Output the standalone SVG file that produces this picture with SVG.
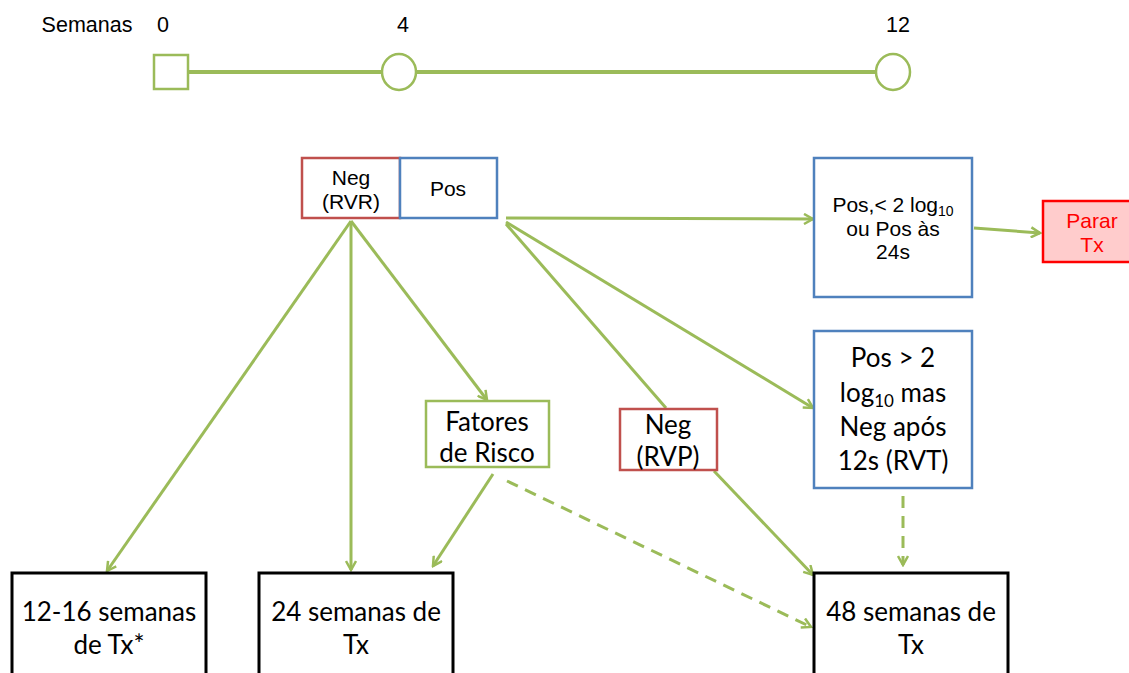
<svg xmlns="http://www.w3.org/2000/svg" width="1129" height="673" viewBox="0 0 1129 673">
<defs>
<style>
.ar{font-family:"Liberation Sans",Arial,sans-serif;font-size:21px;fill:#000;text-anchor:middle}
.tl{font-family:"Liberation Sans",Arial,sans-serif;font-size:21.5px;fill:#000;text-anchor:middle}
.cb{font-family:Lato,"Open Sans",sans-serif;font-size:26px;fill:#000;text-anchor:middle}
.ln{stroke:#9BBB59;stroke-width:3;fill:none}
.dash{stroke-dasharray:12 8}
.red{fill:#fff;stroke:#C0504D;stroke-width:2.5}
.blue{fill:#fff;stroke:#4F81BD;stroke-width:2.5}
.green{fill:#fff;stroke:#9BBB59;stroke-width:2.5}
.black{fill:#fff;stroke:#000;stroke-width:3}
</style>
<marker id="arr" viewBox="0 0 12 12" refX="10" refY="6" markerWidth="12" markerHeight="12" markerUnits="userSpaceOnUse" orient="auto">
<path d="M1,1 L10,6 L1,11" fill="none" stroke="#9BBB59" stroke-width="2.5" stroke-linejoin="miter"/>
</marker>
</defs>
<rect width="1129" height="673" fill="#fff"/>
<g id="timeline">
<text class="tl" x="87" y="32">Semanas</text>
<text class="tl" x="163" y="32">0</text>
<text class="tl" x="403" y="32">4</text>
<text class="tl" x="898" y="32">12</text>
<line x1="188" y1="72" x2="876" y2="72" stroke="#9BBB59" stroke-width="4"/>
<rect x="154" y="55" width="34" height="34" fill="#fff" stroke="#9BBB59" stroke-width="2.5"/>
<ellipse cx="399" cy="72" rx="17" ry="18" fill="#fff" stroke="#9BBB59" stroke-width="2.5"/>
<ellipse cx="893" cy="72" rx="17" ry="18" fill="#fff" stroke="#9BBB59" stroke-width="2.5"/>
</g>
<g id="connectors">
<line class="ln" x1="351" y1="221" x2="107" y2="571" marker-end="url(#arr)"/>
<line class="ln" x1="351" y1="221" x2="351" y2="570" marker-end="url(#arr)"/>
<line class="ln" x1="351" y1="221" x2="487" y2="400" marker-end="url(#arr)"/>
<line class="ln" x1="506" y1="218" x2="813" y2="219" marker-end="url(#arr)"/>
<line class="ln" x1="506" y1="222" x2="813" y2="408" marker-end="url(#arr)"/>
<line class="ln" x1="506" y1="224" x2="666" y2="408"/>
<line class="ln" x1="714" y1="471" x2="813" y2="575" marker-end="url(#arr)"/>
<line class="ln" x1="493" y1="474" x2="433" y2="566" marker-end="url(#arr)"/>
<line class="ln dash" x1="507" y1="481" x2="811" y2="627" marker-end="url(#arr)"/>
<line class="ln dash" x1="903" y1="496" x2="903" y2="565" marker-end="url(#arr)"/>
<line class="ln" x1="974" y1="228" x2="1040" y2="233" marker-end="url(#arr)"/>
</g>
<g id="neg-rvr">
<rect class="red" x="302" y="158" width="98" height="60"/>
<text class="ar" x="351" y="185">Neg</text>
<text class="ar" x="351" y="209">(RVR)</text>
</g>
<g id="pos">
<rect class="blue" x="400" y="158" width="97" height="60"/>
<text class="ar" x="448" y="196">Pos</text>
</g>
<g id="pos-lt2">
<rect class="blue" x="814" y="158" width="158" height="139"/>
<text class="ar" x="893" y="212">Pos,&lt; 2 log<tspan font-size="14" dy="4">10</tspan></text>
<text class="ar" x="893" y="236">ou Pos às</text>
<text class="ar" x="893" y="259">24s</text>
</g>
<g id="parar">
<rect x="1043" y="201" width="100" height="61" fill="#FFCCCC" stroke="#FF0000" stroke-width="2.5"/>
<text class="ar" x="1092" y="228" style="fill:#FF0000">Parar</text>
<text class="ar" x="1092" y="252" style="fill:#FF0000">Tx</text>
</g>
<g id="pos-gt2">
<rect class="blue" x="814" y="331" width="158" height="157"/>
<text class="cb" x="893" y="367">Pos &gt; 2</text>
<text class="cb" x="893" y="402">log<tspan font-size="17" dy="5">10</tspan><tspan dy="-5">  mas</tspan></text>
<text class="cb" x="893" y="436">Neg após</text>
<text class="cb" x="893" y="470">12s (RVT)</text>
</g>
<g id="fatores">
<rect class="green" x="426" y="401" width="123" height="66"/>
<text class="cb" x="487" y="431">Fatores</text>
<text class="cb" x="487" y="462">de Risco</text>
</g>
<g id="neg-rvp">
<rect class="red" x="620" y="409" width="97" height="61"/>
<text class="cb" x="668" y="434">Neg</text>
<text class="cb" x="668" y="466">(RVP)</text>
</g>
<g id="tx12">
<rect class="black" x="12" y="573" width="194" height="110"/>
<text class="cb" x="109" y="621">12-16 semanas</text>
<text class="cb" x="109" y="654">de Tx*</text>
</g>
<g id="tx24">
<rect class="black" x="259" y="573" width="194" height="110"/>
<text class="cb" x="356" y="621">24 semanas de</text>
<text class="cb" x="356" y="654">Tx</text>
</g>
<g id="tx48">
<rect class="black" x="814" y="573" width="194" height="110"/>
<text class="cb" x="911" y="621">48 semanas de</text>
<text class="cb" x="911" y="654">Tx</text>
</g>
</svg>
